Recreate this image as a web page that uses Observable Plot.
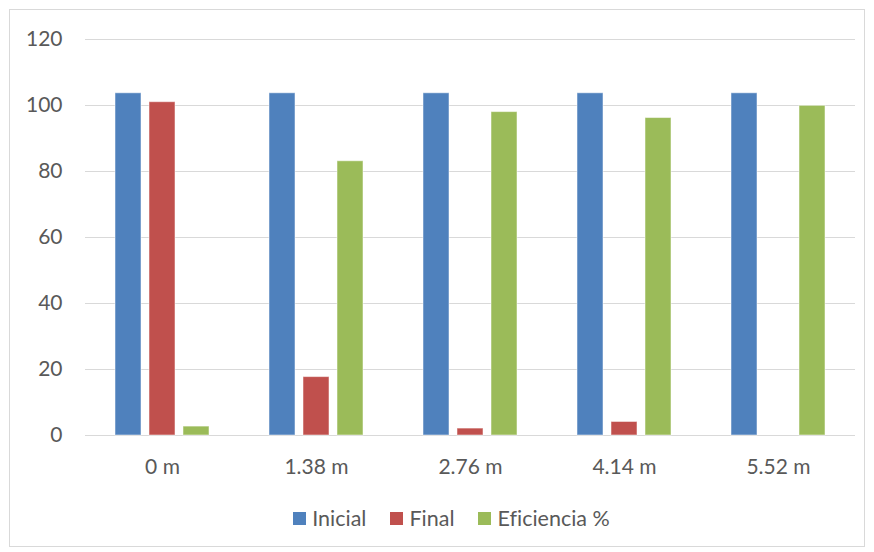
<!DOCTYPE html>
<html>
<head>
<meta charset="utf-8">
<script src="https://cdn.jsdelivr.net/npm/d3@7"></script>
<script src="https://cdn.jsdelivr.net/npm/@observablehq/plot@0.6"></script>
<style>
  html, body { margin: 0; padding: 0; background: #fff; }
  body { width: 874px; height: 552px; position: relative; overflow: hidden; font-family: Lato, "Open Sans", sans-serif; font-variant-ligatures: none; }
  #frame { position: absolute; left: 9px; top: 9px; width: 856px; height: 538px; border: 1px solid #d9d9d9; box-sizing: border-box; }
  #chart { position: absolute; left: 0; top: 0; }
  #legend { position: absolute; left: 0; top: 505px; width: 903px; display: flex; justify-content: center; gap: 24px; font-size: 21.5px; line-height: 26px; color: #595959; }
  #legend span.item { display: flex; align-items: center; gap: 6px; }
  #legend span.sw { width: 13px; height: 13px; display: inline-block; }
</style>
</head>
<body>
<div id="frame"></div>
<div id="chart"></div>
<div id="legend"></div>
<script>
const categories = ["0 m", "1.38 m", "2.76 m", "4.14 m", "5.52 m"];
const series = ["Inicial", "Final", "Eficiencia %"];
const colors = ["#4F81BD", "#C0504D", "#9BBB59"];
const inicial = [103.7, 103.7, 103.7, 103.7, 103.7];
const final = [101.0, 17.7, 2.1, 4.1, 0];
const eficiencia = [2.7, 83.1, 98.0, 96.2, 99.9];
const yTicks = [0, 20, 40, 60, 80, 100, 120];

const values = [inicial, final, eficiencia];
const data = [];
categories.forEach((c, i) => {
  series.forEach((s, j) => data.push({cat: c, series: s, value: values[j][i]}));
});

const plot = Plot.plot({
  width: 874,
  height: 495,
  marginLeft: 85,
  marginRight: 19,
  marginTop: 39,
  marginBottom: 60,
  style: {fontFamily: "Lato, 'Open Sans', sans-serif", fontSize: "21px", color: "#595959", background: "transparent", fontVariantLigatures: "none"},
  fx: {domain: categories, paddingInner: 0, paddingOuter: 0, axis: "bottom", tickSize: 0, tickPadding: 24, label: null},
  x: {domain: series, axis: null, paddingInner: 0.229, paddingOuter: 0.815},
  y: {domain: [0, 120], ticks: yTicks, tickSize: 0, tickPadding: 23, label: null, tickFormat: d => String(d)},
  color: {domain: series, range: colors},
  marks: [
    Plot.ruleY(yTicks, {stroke: "#d9d9d9", strokeWidth: 1.2}),
    Plot.barY(data, {fx: "cat", x: "series", y: "value", fill: "series", stroke: "#ffffff", strokeOpacity: 0.5, strokeWidth: 1})
  ]
});
document.getElementById("chart").appendChild(plot);

const legend = document.getElementById("legend");
series.forEach((s, j) => {
  const item = document.createElement("span");
  item.className = "item";
  const sw = document.createElement("span");
  sw.className = "sw";
  sw.style.background = colors[j];
  item.appendChild(sw);
  item.appendChild(document.createTextNode(s));
  legend.appendChild(item);
});
</script>
</body>
</html>
